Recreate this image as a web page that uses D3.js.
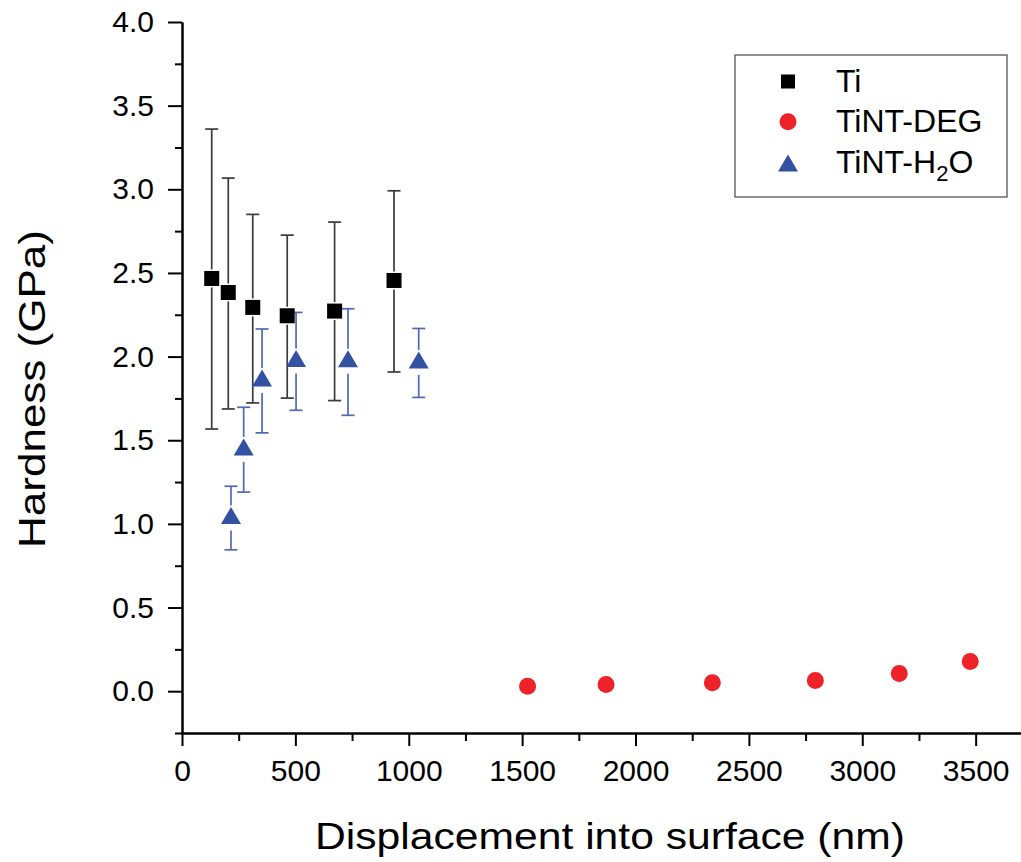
<!DOCTYPE html>
<html>
    <head>
        <meta charset="utf-8">
        <style>
            body { margin: 0; background: #fff; }
            text { font-family: "Liberation Sans", Arial, sans-serif; fill: #000; }
        </style>
    </head>
    <body>
        <svg width="1021" height="862"></svg>
        <script src="https://d3js.org/d3.v7.min.js"></script>
        <script>
            // Ti (squares)
            let tiX = [131, 204, 312, 464, 673, 935];
            let tiY = [2.467, 2.383, 2.294, 2.244, 2.272, 2.455];
            let tiHi = [3.36, 3.067, 2.85, 2.726, 2.804, 2.991];
            let tiLo = [1.567, 1.687, 1.723, 1.752, 1.737, 1.908];
            // TiNT-DEG (circles)
            let degX = [1524, 1870, 2339, 2793, 3163, 3476];
            let degY = [0.03, 0.04, 0.05, 0.064, 0.106, 0.177];
            // TiNT-H2O (triangles)
            let h2oX = [216, 272, 353, 503, 732, 1044];
            let h2oY = [1.05, 1.46, 1.872, 1.988, 1.987, 1.98];
            let h2oHi = [1.225, 1.697, 2.165, 2.264, 2.286, 2.168];
            let h2oLo = [0.845, 1.19, 1.544, 1.679, 1.649, 1.756];

            let xTicks = [0, 500, 1000, 1500, 2000, 2500, 3000, 3500];
            let yTicks = [0, 0.5, 1, 1.5, 2, 2.5, 3, 3.5, 4];

            let svg = d3.select("svg");
            let x = d3.scaleLinear().domain([0, 3700]).range([182, 1021]);
            let y = d3.scaleLinear().domain([-0.25, 4.0]).range([733, 22]);

            // axes
            svg.append("g").attr("transform", "translate(0,733)")
                .call(d3.axisBottom(x).tickValues(xTicks).tickFormat(d3.format("d"))
                    .tickSize(13).tickPadding(14).tickSizeOuter(0));
            svg.append("g").attr("transform", "translate(0,733)")
                .call(d3.axisBottom(x).tickValues(d3.range(250, 3700, 500)).tickFormat("")
                    .tickSize(8).tickSizeOuter(0));
            svg.append("g").attr("transform", "translate(182,0)")
                .call(d3.axisLeft(y).tickValues(yTicks).tickFormat(d3.format(".1f"))
                    .tickSize(14).tickPadding(14).tickSizeOuter(0));
            svg.append("g").attr("transform", "translate(182,0)")
                .call(d3.axisLeft(y).tickValues(d3.range(-0.25, 4, 0.5)).tickFormat("")
                    .tickSize(7).tickSizeOuter(0));
            svg.selectAll(".domain, .tick line").attr("stroke", "#000").attr("stroke-width", 2);
            svg.selectAll(".tick text").style("font-size", "30px").style("font-family", "Liberation Sans, Arial");

            // axis titles
            svg.append("text").attr("x", 315).attr("y", 849)
                .attr("textLength", 590).attr("lengthAdjust", "spacingAndGlyphs")
                .style("font-size", "37px").text("Displacement into surface (nm)");
            svg.append("text").attr("transform", "translate(45,548) rotate(-90)")
                .attr("textLength", 318).attr("lengthAdjust", "spacingAndGlyphs")
                .style("font-size", "37px").text("Hardness (GPa)");

            function errorBars(xs, ys, lo, hi, color, gapUp, gapDown) {
                let g = svg.append("g").attr("stroke", color).attr("stroke-width", 1.7);
                xs.forEach(function(d, i) {
                    let cx = x(d), cy = y(ys[i]);
                    g.append("line").attr("x1", cx).attr("x2", cx)
                        .attr("y1", y(hi[i])).attr("y2", cy - gapUp);
                    g.append("line").attr("x1", cx).attr("x2", cx)
                        .attr("y1", cy + gapDown).attr("y2", y(lo[i]));
                    [hi[i], lo[i]].forEach(function(v) {
                        g.append("line").attr("x1", cx - 6.5).attr("x2", cx + 6.5)
                            .attr("y1", y(v)).attr("y2", y(v));
                    });
                });
            }
            errorBars(tiX, tiY, tiLo, tiHi, "#3a3a3a", 9, 9);
            errorBars(h2oX, h2oY, h2oLo, h2oHi, "#5069b5", 10, 15);

            // markers
            svg.append("g").selectAll("rect").data(tiX).enter().append("rect")
                .attr("x", (d) => x(d) - 7.5).attr("y", (d, i) => y(tiY[i]) - 7.5)
                .attr("width", 15).attr("height", 15).attr("fill", "#000");
            svg.append("g").selectAll("circle").data(degX).enter().append("circle")
                .attr("cx", (d) => x(d)).attr("cy", (d, i) => y(degY[i]))
                .attr("r", 8.5).attr("fill", "#ee2229");
            function tri(cx, cy) {
                return "M" + cx + "," + (cy - 8.5) + "L" + (cx + 10) + "," + (cy + 8.5) +
                    "L" + (cx - 10) + "," + (cy + 8.5) + "Z";
            }
            svg.append("g").selectAll("path").data(h2oX).enter().append("path")
                .attr("d", (d, i) => tri(x(d), y(h2oY[i]))).attr("fill", "#3351a3");

            // legend
            let leg = svg.append("g");
            leg.append("rect").attr("x", 735).attr("y", 55).attr("width", 272).attr("height", 142)
                .attr("fill", "#fff").attr("stroke", "#555").attr("stroke-width", 1.3);
            leg.append("rect").attr("x", 781).attr("y", 74.5).attr("width", 14).attr("height", 14).attr("fill", "#000");
            leg.append("circle").attr("cx", 788).attr("cy", 121.7).attr("r", 8.5).attr("fill", "#ee2229");
            leg.append("path").attr("d", tri(788, 163)).attr("fill", "#3351a3");
            leg.append("text").attr("x", 836).attr("y", 91.7).style("font-size", "32px").text("Ti");
            leg.append("text").attr("x", 836).attr("y", 131.7).style("font-size", "32px").text("TiNT-DEG");
            let t3 = leg.append("text").attr("x", 836).attr("y", 173.3).style("font-size", "32px");
            t3.append("tspan").text("TiNT-H");
            t3.append("tspan").attr("dy", 8).style("font-size", "22px").text("2");
            t3.append("tspan").attr("dy", -8).text("O");
        </script>
    </body>
</html>
